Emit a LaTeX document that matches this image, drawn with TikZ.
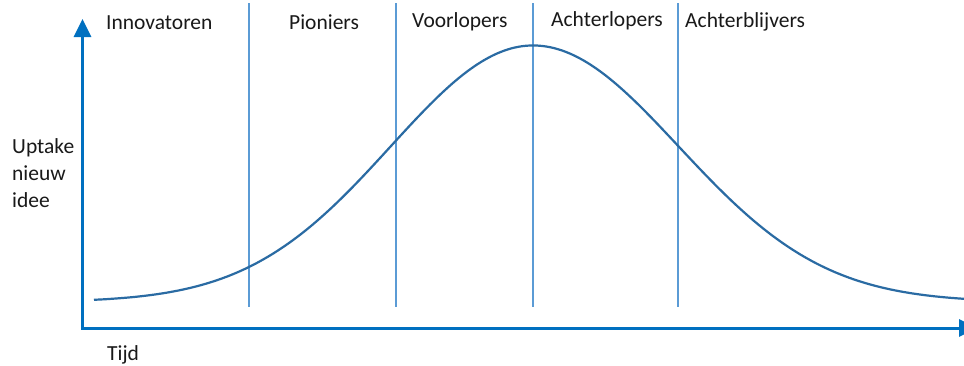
\documentclass[tikz,border=0pt]{standalone}
\usepackage{fontspec}
\setmainfont{Carlito}
\usetikzlibrary{arrows.meta}
\definecolor{axisblue}{HTML}{0070C0}
\definecolor{curveblue}{HTML}{2A6BA3}
\definecolor{lineblue}{HTML}{5B9BD5}
\tikzset{
  axisline/.style={draw=axisblue, line width=3pt, line cap=rect, -{Triangle[length=18pt,width=17pt]}},
  curveline/.style={draw=curveblue, line width=2.2pt, line join=round},
  divline/.style={draw=lineblue, line width=1.3pt},
  lbl/.style={anchor=base west, inner sep=0pt, font=\fontsize{21.5}{27}\selectfont, text=black!90}
}
\begin{document}
\begin{tikzpicture}[x=1pt,y=-1pt]
\useasboundingbox[fill=white] (0,0) rectangle (964,365);
\coordinate (o) at (82.5,328);
\coordinate (ytip) at (82.5,19);
\coordinate (xtip) at (977,328);
\draw[axisline] (o) -- (ytip);
\draw[axisline] (o) -- (xtip);
% divider lines
\foreach \n/\x in {d1/249, d2/396, d3/533, d4/678}{
  \coordinate (\n t) at (\x,3);
  \coordinate (\n b) at (\x,307);
  \draw[divline] (\n t) -- (\n b);
}
% curve (bell shape, slightly wider on the right)
\coordinate (peak) at (533,45.5);
\draw[curveline]
  plot[domain=94:533, samples=120, variable=\t] ({\t},{302-256.5*exp(-(((\t-533)/100)^2)/4.052)})
  -- plot[domain=533:964, samples=120, variable=\t] ({\t},{302-256.5*exp(-(((\t-533)/100)^2)/4.239)});
% labels
\node[lbl] (innov) at (106,29.5) {Innovatoren};
\node[lbl] (pion) at (289,29) {Pioniers};
\node[lbl] (voor) at (412,27) {Voorlopers};
\node[lbl] (achterl) at (551,26) {Achterlopers};
\node[lbl] (achterb) at (685,27) {Achterblijvers};
\node[lbl, align=left] (uptake) at (12,207) {Uptake\\nieuw\\idee};
\node[lbl] (tijd) at (107,360) {Tijd};
\end{tikzpicture}
\end{document}
